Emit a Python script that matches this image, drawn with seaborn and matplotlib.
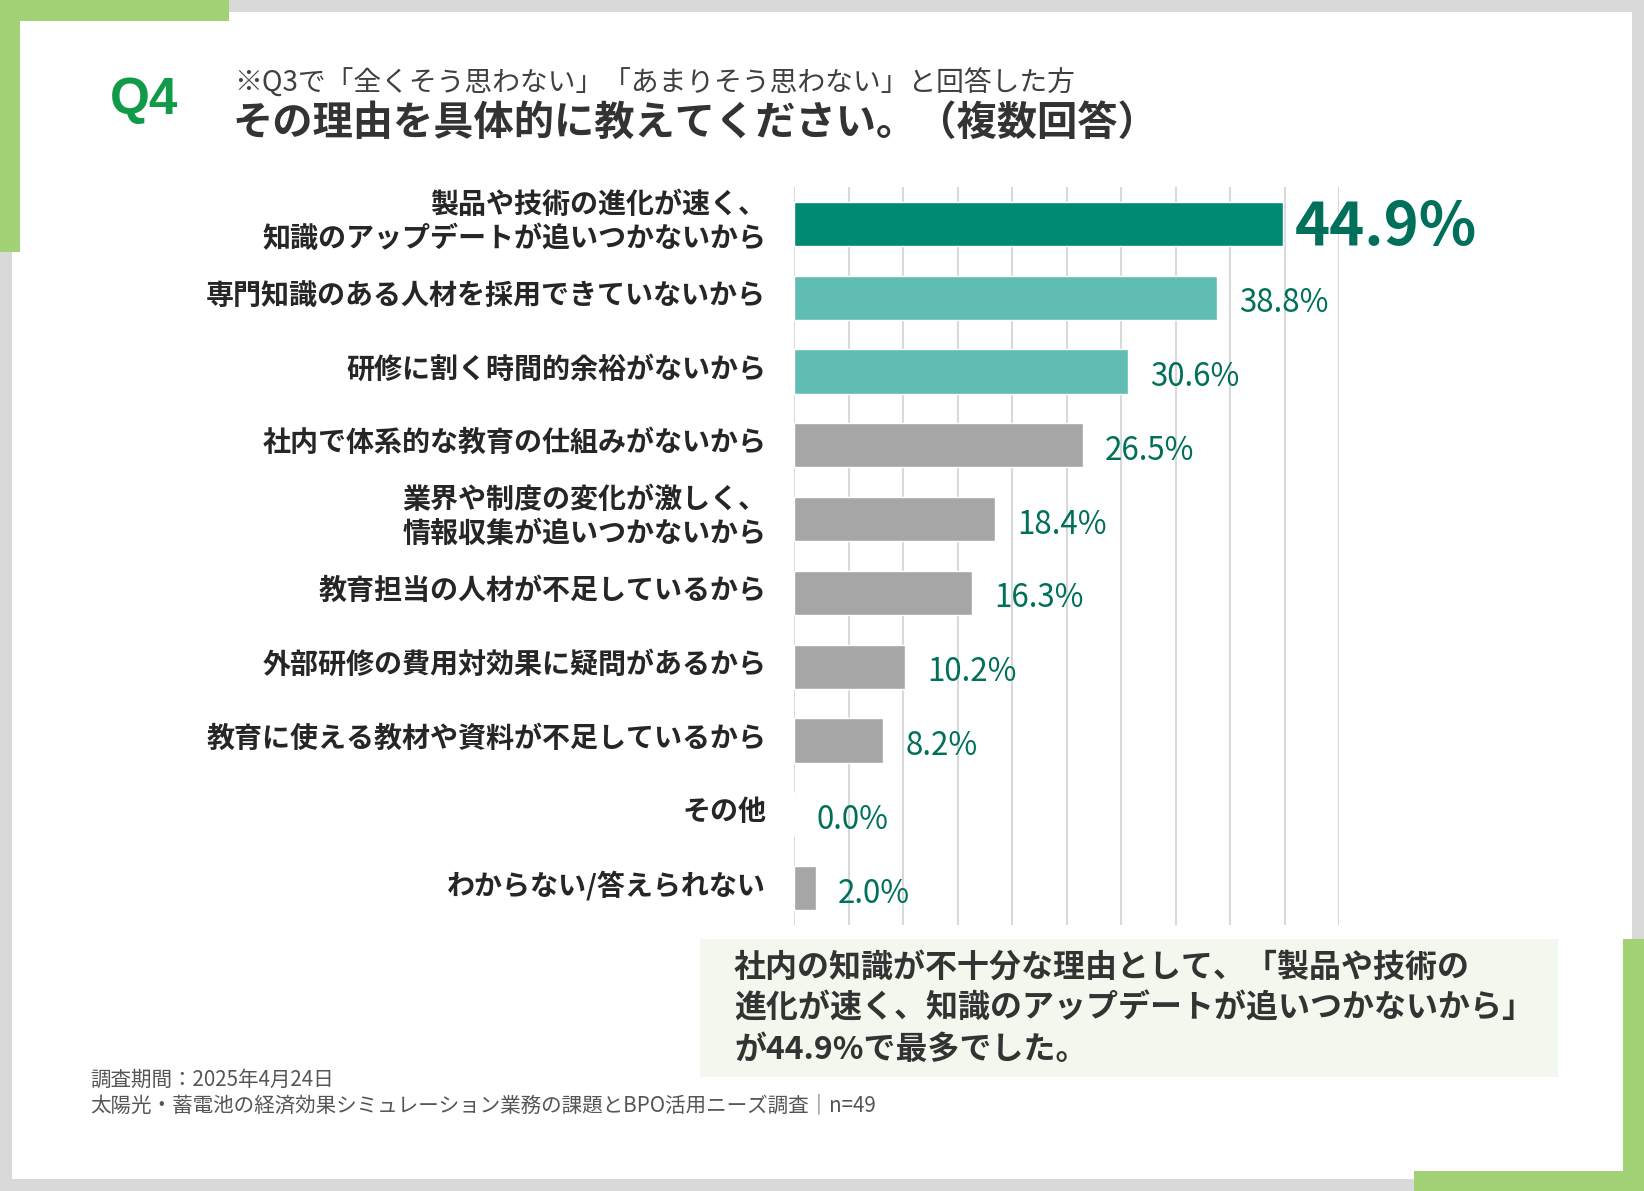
import numpy as np
import pandas as pd
import matplotlib
matplotlib.use("Agg")
import matplotlib.pyplot as plt
from matplotlib.patches import Rectangle
import seaborn as sns

# data
reasons = [
    "製品や技術の進化が速く、\n知識のアップデートが追いつかないから",
    "専門知識のある人材を採用できていないから",
    "研修に割く時間的余裕がないから",
    "社内で体系的な教育の仕組みがないから",
    "業界や制度の変化が激しく、\n情報収集が追いつかないから",
    "教育担当の人材が不足しているから",
    "外部研修の費用対効果に疑問があるから",
    "教育に使える教材や資料が不足しているから",
    "その他",
    "わからない/答えられない",
]
shares = [44.9, 38.8, 30.6, 26.5, 18.4, 16.3, 10.2, 8.2, 0.0, 2.0]
bar_colors = ["#008a74", "#5fbdb3", "#5fbdb3"] + ["#a6a6a6"] * 7

W, H = 1644, 1191

sns.set_theme(style="white")
plt.rcParams["font.family"] = ["Noto Sans CJK JP", "DejaVu Sans"]

fig = plt.figure(figsize=(W / 100, H / 100), dpi=100, facecolor="#d9d9d9")


def rect(x0, y0, x1, y1, color):
    fig.patches.append(Rectangle((x0 / W, 1 - y1 / H), (x1 - x0) / W, (y1 - y0) / H,
                                 transform=fig.transFigure, color=color, zorder=-5, lw=0))


def ftext(x, y, s, **kw):
    fig.text(x / W, 1 - y / H, s, **kw)


# frame
green = "#a3d176"
rect(12, 12, 1632, 1179, "white")
rect(0, 0, 229, 21, green)
rect(0, 0, 20, 252, green)
rect(1623, 939, 1644, 1191, green)
rect(1414, 1171, 1644, 1191, green)

# titles
ftext(110, 101, "Q4", fontsize=37, fontweight="bold", color="#119b48",
      family=["Liberation Sans", "DejaVu Sans"], va="center")
ftext(234, 84, "※Q3で「全くそう思わない」「あまりそう思わない」と回答した方",
      fontsize=20, color="#404040", va="center")
ftext(232, 123, "その理由を具体的に教えてください。（複数回答）",
      fontsize=29, fontweight="bold", color="#333333", va="center")

# chart
df = pd.DataFrame({"reason": reasons, "share": shares})
ax = fig.add_axes([794 / W, 1 - 925 / H, (1339 - 794) / W, (925 - 187) / H])
ax.set_zorder(3)
ax.set_facecolor("none")
sns.barplot(data=df, x="share", y="reason", hue="reason",
            palette=dict(zip(reasons, bar_colors)), legend=False,
            width=0.6, saturation=1, ax=ax)
ax.set_xlim(0, 50)
ax.set_xticks(np.arange(0, 51, 5))
ax.xaxis.grid(True, color="#d9d9d9", lw=1.5)
ax.set_axisbelow(True)
ax.tick_params(axis="x", length=0, labelbottom=False)
ax.tick_params(axis="y", length=0, labelleft=False)
ax.set_xlabel("")
ax.set_ylabel("")
for s in ax.spines.values():
    s.set_visible(False)

# category labels, right-aligned left of the axis
for i, name in enumerate(reasons):
    ax.annotate(name, xy=(0, i), xytext=(-20, 1.5), textcoords="offset points",
                ha="right", va="center", fontsize=20.2, fontweight="bold",
                color="#262626", linespacing=1.25, annotation_clip=False)

for i, v in enumerate(shares):
    if i == 0:
        ax.annotate(f"{v:.1f}%", xy=(v, i), xytext=(8, -3), textcoords="offset points",
                    va="center", fontsize=43, fontweight="bold", color="#00705a",
                    annotation_clip=False)
    else:
        ax.annotate(f"{v:.1f}%", xy=(v, i), xytext=(16, -4), textcoords="offset points",
                    va="center", fontsize=22.5, color="#00705a", annotation_clip=False)

# callout
rect(700, 939, 1558, 1077, "#f3f8ee")
callout = ["社内の知識が不十分な理由として、「製品や技術の",
           "進化が速く、知識のアップデートが追いつかないから」",
           "が44.9%で最多でした。"]
for k, line in enumerate(callout):
    ftext(734, 968 + 41 * k, line, fontsize=23, fontweight="bold", color="#333333", va="center")

# footer
ftext(90, 1080, "調査期間：2025年4月24日", fontsize=14.8, color="#555555", va="center")
ftext(90, 1105, "太陽光・蓄電池の経済効果シミュレーション業務の課題とBPO活用ニーズ調査｜n=49",
      fontsize=14.8, color="#555555", va="center")

fig.savefig("out.png", dpi=100, facecolor=fig.get_facecolor())
